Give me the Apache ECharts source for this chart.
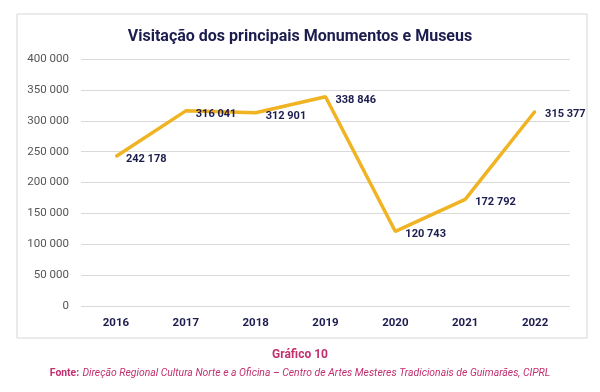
<!DOCTYPE html>
<html><head><meta charset="utf-8">
<script src="https://cdn.jsdelivr.net/npm/echarts@6/dist/echarts.min.js"></script>
<style>html,body{margin:0;padding:0;background:#fff}#c{width:600px;height:392px}</style>
</head><body><div id="c"></div>
<script>
const categories = ['2016','2017','2018','2019','2020','2021','2022'];
const visits = [242178, 316041, 312901, 338846, 120743, 172792, 315377];
const yTicks = [0, 50000, 100000, 150000, 200000, 250000, 300000, 350000, 400000];

function fmt(v){ return String(v).replace(/\B(?=(\d{3})+(?!\d))/g, ' '); }
const FONT = 'Roboto, "Noto Sans", sans-serif';
const chart = echarts.init(document.getElementById('c'), null, {renderer:'canvas'});
chart.setOption({
  backgroundColor:'#ffffff',
  animation:false,
  graphic:[
    {type:'rect', shape:{x:17,y:14,width:570,height:324}, style:{fill:'#fff', stroke:'#d6d6d6', lineWidth:1}, z:-1},
    {type:'text', left:'center', top:349, style:{text:'Gráfico 10', fill:'#c2306f', font:'bold 12px '+FONT}},
    {type:'text', left:'center', top:367, style:{text:'{b|Fonte:} {i|Direção Regional Cultura Norte e a Oficina – Centro de Artes Mesteres Tradicionais de Guimarães, CIPRL}',
      rich:{b:{fill:'#c2306f', font:'bold 10.4px '+FONT}, i:{fill:'#c2306f', font:'italic 10.4px '+FONT}}}}
  ],
  title:{text:'Visitação dos principais Monumentos e Museus', left:'center', top:24,
    textStyle:{color:'#1c1c4f', fontSize:16, fontWeight:'bold', fontFamily:FONT}},
  grid:{left:81, right:30, top:59, bottom:86, containLabel:false},
  xAxis:{type:'category', data:categories, boundaryGap:true,
    axisLine:{show:false}, axisTick:{show:false},
    axisLabel:{color:'#1c1c4f', fontWeight:'bold', fontSize:11.5, fontFamily:FONT, margin:11}},
  yAxis:{type:'value', min:0, max:400000, interval:50000,
    axisLine:{show:false}, axisTick:{show:false},
    splitLine:{lineStyle:{color:'#d9d9d9', width:1}},
    axisLabel:{color:'#555', fontSize:11.5, fontFamily:FONT, margin:12,
      formatter:v => yTicks.includes(v) ? fmt(v) : ''}},
  series:[{type:'line', data:visits, symbol:'circle', symbolSize:2, showSymbol:true, smooth:false,
    lineStyle:{color:'#f0b323', width:3.5}, itemStyle:{color:'#f0b323'},
    label:{show:true, position:'right', distance:9, offset:[0,3], color:'#1c1c4f', fontWeight:'bold', fontSize:11, fontFamily:FONT,
      formatter:p => fmt(p.value)}}]
});
</script></body></html>
